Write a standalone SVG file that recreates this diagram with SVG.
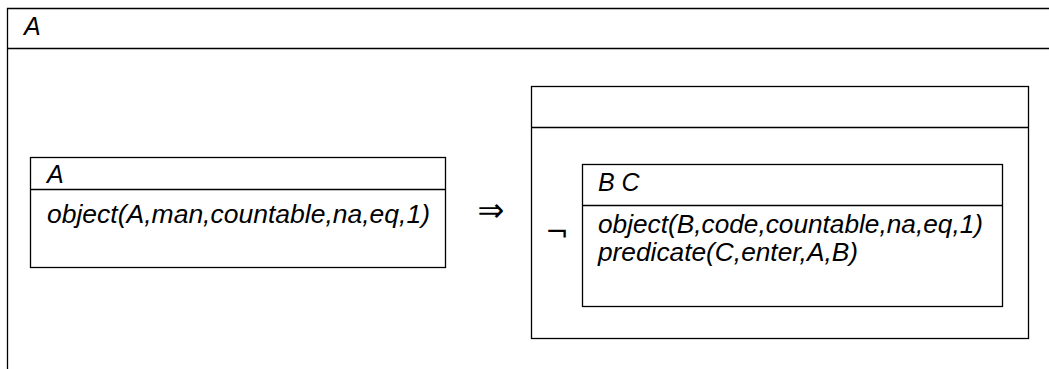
<svg xmlns="http://www.w3.org/2000/svg" width="1049" height="369" viewBox="0 0 1049 369">
<style>
.b{fill:none;stroke:#000;stroke-width:1.3}
.t{font-family:"Liberation Sans",Arial,sans-serif;font-style:italic;font-size:25px;fill:#000}
.s{font-family:"DejaVu Sans","Liberation Sans",sans-serif;fill:#000}
</style>
<rect width="1049" height="369" fill="#fff"/>
<g id="outer">
<path class="b" d="M7.5,369 V8.5 H1049 M7.5,48.5 H1049"/>
<text class="t" x="24" y="35">A</text>
</g>
<g id="left">
<rect class="b" x="30.5" y="157.5" width="415" height="110"/>
<line class="b" x1="30.5" y1="189.5" x2="445.5" y2="189.5"/>
<text class="t" x="47" y="183">A</text>
<text class="t" x="47" y="223" textLength="383" lengthAdjust="spacingAndGlyphs">object(A,man,countable,na,eq,1)</text>
</g>
<g id="connectors">
<text class="s" x="491" y="221" font-size="32" text-anchor="middle">⇒</text>
</g>
<g id="right">
<rect class="b" x="531.5" y="86.5" width="497" height="252"/>
<line class="b" x1="531.5" y1="127.5" x2="1028.5" y2="127.5"/>
<text class="s" x="557" y="242" font-size="28" text-anchor="middle">¬</text>
<g id="inner">
<rect class="b" x="582.5" y="164.5" width="420" height="142"/>
<line class="b" x1="582.5" y1="205.5" x2="1002.5" y2="205.5"/>
<text class="t" x="598" y="191">B C</text>
<text class="t" x="598" y="233" textLength="385" lengthAdjust="spacingAndGlyphs">object(B,code,countable,na,eq,1)</text>
<text class="t" x="598" y="261" textLength="260" lengthAdjust="spacingAndGlyphs">predicate(C,enter,A,B)</text>
</g>
</g>
</svg>
